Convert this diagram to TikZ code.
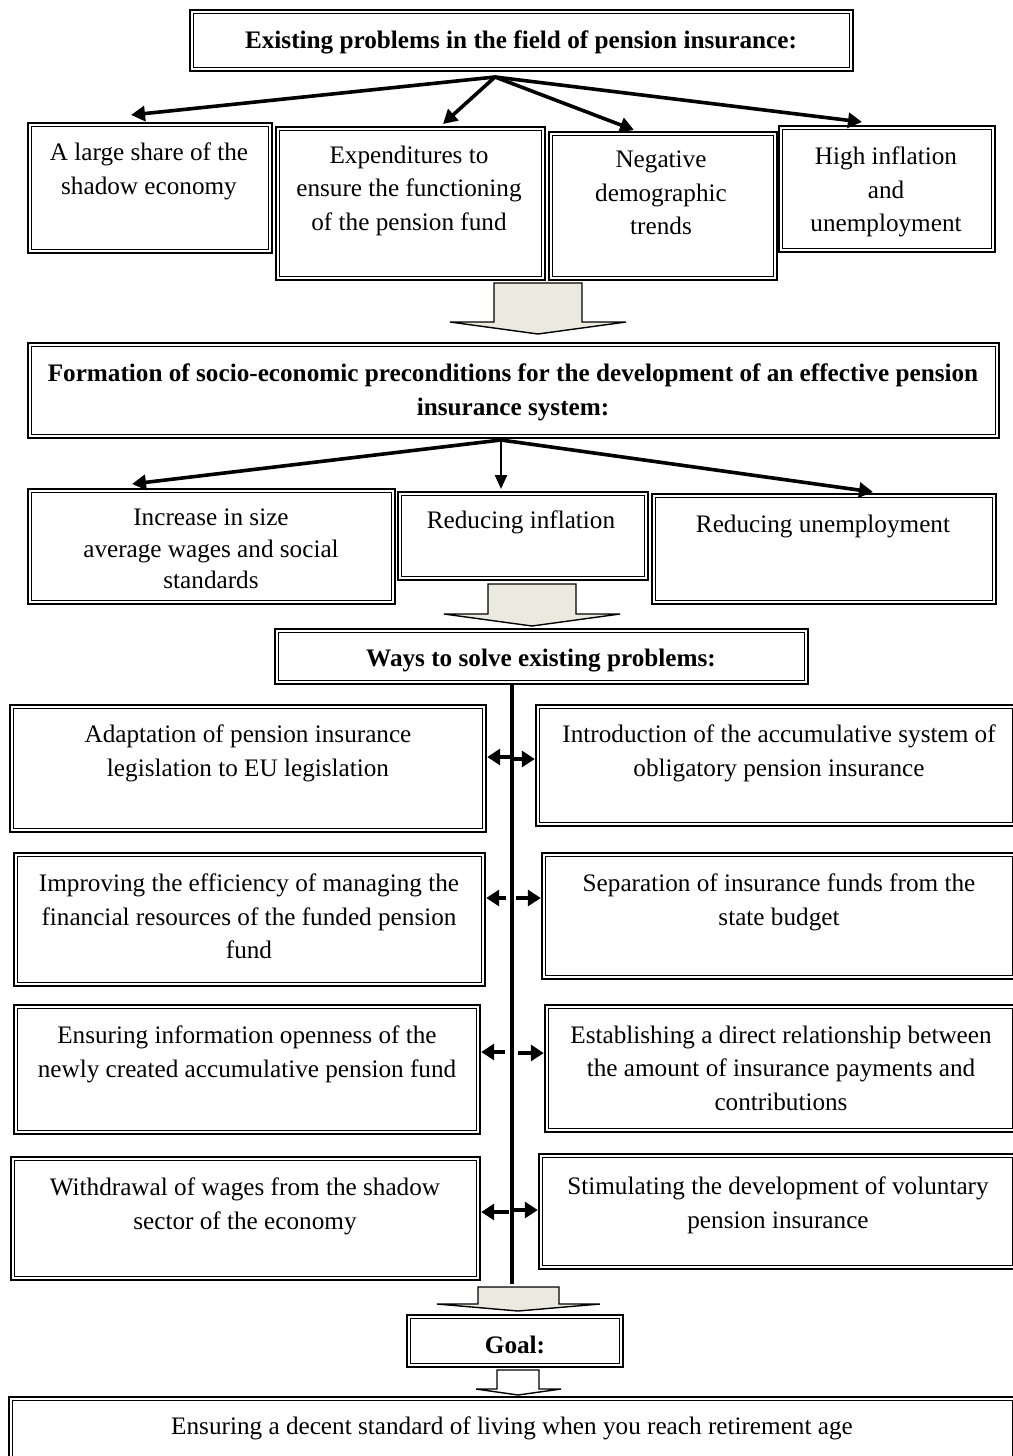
\documentclass[tikz,border=0pt]{standalone}
\usepackage{fontspec}
\setmainfont{Liberation Serif}
\usetikzlibrary{arrows.meta,fit}
\definecolor{arrowfill}{RGB}{236,233,222}
\tikzset{
 box/.style={draw, line width=1.2pt, inner sep=0pt,
   path picture={\draw[line width=0.6pt]
     ([shift={(1.9pt,-1.9pt)}]path picture bounding box.north west) rectangle
     ([shift={(-1.9pt,1.9pt)}]path picture bounding box.south east);}},
 txt/.style={align=center, anchor=north, yshift=11.7pt, inner sep=0pt,
   execute at begin node=\strut, font=\fontsize{12.6}{16.75}\selectfont},
 mtxt/.style={txt, yshift=-3pt},
 btxt/.style={txt, font=\bfseries\fontsize{12.6}{16.75}\selectfont},
 mbtxt/.style={btxt, yshift=-3pt},
 fan/.style={line width=1.8pt, -{Triangle[length=7pt,width=7.5pt]}},
 fanthin/.style={line width=1.2pt, -{Triangle[length=7pt,width=6pt]}},
 side/.style={line width=1.8pt, -{Triangle[length=6.5pt,width=8pt]}},
 vline/.style={line width=1.8pt},
 barr/.style={draw, line width=0.7pt, fill=arrowfill, line join=miter},
 warr/.style={draw, line width=0.7pt, fill=white, line join=miter},
}
\begin{document}
\begin{tikzpicture}[x=0.5pt,y=-0.5pt]
\useasboundingbox (0,0) rectangle (1012,1456);

% ---------- top ----------
\node[box, fit={(190,10) (853,71)}] (top) {};
\node[btxt] (topT) at (521,48) {Existing problems in the field of pension insurance:};

\node[box, fit={(28,123) (272,253)}] (b1) {};
\node[box, fit={(276,127) (545,280)}] (b2) {};
\node[box, fit={(549,132) (777,280)}] (b3) {};
\node[box, fit={(779,126) (995,252)}] (b4) {};
\node[mtxt] (b1T) at (149,160) {A large share of the\\shadow economy};
\node[mtxt] (b2T) at (409,163) {Expenditures to\\ensure the functioning\\of the pension fund};
\node[mtxt] (b3T) at (661,168) {Negative\\demographic\\trends};
\node[mtxt] (b4T) at (886,164) {High inflation\\and\\unemployment};

\coordinate (o1) at (495,77);
\coordinate (t1) at (131,115);
\coordinate (t2) at (443,124);
\coordinate (t3) at (634,130);
\coordinate (t4) at (862,122);
\draw[fan] (o1) -- (t1);
\draw[fan] (o1) -- (t2);
\draw[fan] (o1) -- (t3);
\draw[fan] (o1) -- (t4);

% block arrow 1
\path[barr] (494,283) -- (494,322) -- (450,322) -- (538,334) -- (626,322) -- (582,322) -- (582,283) -- cycle;

% ---------- formation ----------
\node[box, fit={(28,343) (999,438)}] (form) {};
\node[mbtxt] (formT) at (513,381) {Formation of socio-economic preconditions for the development of an effective pension\\insurance system:};

\node[box, fit={(28,489) (395,604)}] (ba) {};
\node[box, fit={(398,492) (648,580)}] (bb) {};
\node[box, fit={(652,494) (996,604)}] (bc) {};
\node[mtxt, font=\fontsize{12.6}{15.8}\selectfont] (baT) at (211,526) {Increase in size\\average wages and social\\standards};
\node[txt] (bbT) at (521,528) {Reducing inflation};
\node[txt] (bcT) at (823,532) {Reducing unemployment};

\coordinate (o2) at (501,440);
\draw[fan] (o2) -- (132,484);
\draw[fanthin] (o2) -- (501,489);
\draw[fan] (o2) -- (873,492);

% block arrow 2
\path[barr] (488,584) -- (488,614) -- (444,614) -- (532,626) -- (620,614) -- (576,614) -- (576,584) -- cycle;

% ---------- ways ----------
\node[box, fit={(275,629) (808,684)}] (ways) {};
\node[btxt] (waysT) at (541,666) {Ways to solve existing problems:};

\coordinate (vend) at (512,1284);
\draw[vline] (ways.south -| vend) -- (vend);

\node[box, fit={(10,705) (486,832)}] (l1) {};
\node[box, fit={(536,705) (1016,826)}] (r1) {};
\node[box, fit={(14,853) (485,986)}] (l2) {};
\node[box, fit={(542,853) (1016,979)}] (r2) {};
\node[box, fit={(14,1005) (480,1134)}] (l3) {};
\node[box, fit={(545,1005) (1016,1132)}] (r3) {};
\node[box, fit={(11,1157) (480,1280)}] (l4) {};
\node[box, fit={(539,1154) (1016,1269)}] (r4) {};

\node[mtxt] (l1T) at (248,742) {Adaptation of pension insurance\\legislation to EU legislation};
\node[mtxt] (r1T) at (779,742) {Introduction of the accumulative system of\\obligatory pension insurance};
\node[mtxt] (l2T) at (249,891) {Improving the efficiency of managing the\\financial resources of the funded pension\\fund};
\node[mtxt] (r2T) at (779,891) {Separation of insurance funds from the\\state budget};
\node[mtxt] (l3T) at (247,1043) {Ensuring information openness of the\\newly created accumulative pension fund};
\node[mtxt] (r3T) at (781,1043) {Establishing a direct relationship between\\the amount of insurance payments and\\contributions};
\node[mtxt] (l4T) at (245,1195) {Withdrawal of wages from the shadow\\sector of the economy};
\node[mtxt] (r4T) at (778,1194) {Stimulating the development of voluntary\\pension insurance};

% side arrows
\coordinate (s1l) at (512,757);
\coordinate (s1r) at (512,759);
\coordinate (s2l) at (506,898);
\coordinate (s2r) at (516,898);
\coordinate (s3l) at (505,1052);
\coordinate (s3r) at (518,1053);
\coordinate (s4l) at (509,1212);
\coordinate (s4r) at (512,1210);
\draw[side] (s1l) -- (s1l -| l1.east);
\draw[side] (s1r) -- (s1r -| r1.west);
\draw[side] (s2l) -- (s2l -| l2.east);
\draw[side] (s2r) -- (s2r -| r2.west);
\draw[side] (s3l) -- (s3l -| l3.east);
\draw[side] (s3r) -- (s3r -| r3.west);
\draw[side] (s4l) -- (s4l -| l4.east);
\draw[side] (s4r) -- (s4r -| r4.west);

% block arrow 3
\path[barr] (478,1287) -- (478,1304) -- (437,1304) -- (518,1311) -- (600,1304) -- (559,1304) -- (559,1287) -- cycle;

% ---------- goal ----------
\node[box, fit={(407,1315) (623,1367)}] (goal) {};
\node[btxt] (goalT) at (515,1353) {Goal:};

% block arrow 4
\path[warr] (497,1370) -- (497,1389) -- (476,1389) -- (518,1395) -- (561,1389) -- (539,1389) -- (539,1370) -- cycle;

\node[box, fit={(9,1397) (1016,1470)}] (final) {};
\node[txt] (finalT) at (512,1434) {Ensuring a decent standard of living when you reach retirement age};
\end{tikzpicture}
\end{document}
